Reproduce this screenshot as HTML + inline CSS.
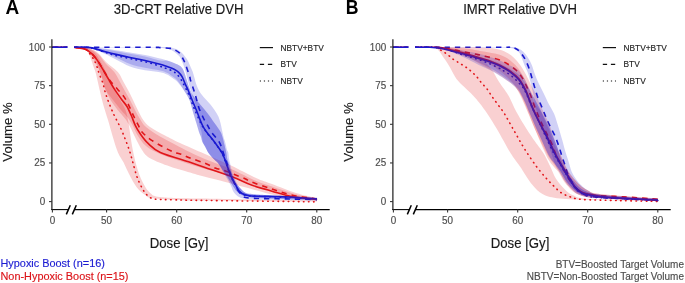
<!DOCTYPE html>
<html><head><meta charset="utf-8">
<style>
html,body{margin:0;padding:0;background:#fff;}
body{width:685px;height:283px;overflow:hidden;position:relative;}
svg{position:absolute;left:0;top:0;will-change:transform;filter:blur(0.35px);}
text{font-family:"Liberation Sans",sans-serif;}
.tk{font-size:9.9px;fill:#4D4D4D;stroke:#4D4D4D;stroke-width:0.15px;}
.at{font-size:13.2px;fill:#1a1a1a;stroke:#1a1a1a;stroke-width:0.15px;}
.lg{font-size:8.35px;fill:#1a1a1a;stroke:#1a1a1a;stroke-width:0.12px;}
.ti{font-size:13.1px;fill:#1a1a1a;stroke:#1a1a1a;stroke-width:0.15px;}
.pl{font-size:19px;font-weight:bold;fill:#000;}
.bt{font-size:10.9px;stroke-width:0.15px;}
.fn{font-size:10.0px;fill:#4D4D4D;stroke:#4D4D4D;stroke-width:0.15px;}
</style></head><body>
<svg width="685" height="283" viewBox="0 0 685 283">
<rect width="685" height="283" fill="#fff"/>
<text transform="translate(5.60,14.25) scale(1,1.070)" class="pl">A</text>
<text transform="translate(178.50,14.40) scale(1,1.050)" class="ti" text-anchor="middle">3D-CRT Relative DVH</text>
<text transform="translate(345.8,14.25) scale(0.93,1.07)" class="pl">B</text>
<text transform="translate(520.00,14.40) scale(1,1.050)" class="ti" text-anchor="middle">IMRT Relative DVH</text>
<path d="M52.00,47.20 L67.70,47.20 L74.10,47.20 C75.08,47.30 78.02,47.42 80.00,47.80 C81.98,48.18 84.12,48.17 86.00,49.50 C87.88,50.83 89.92,53.98 91.30,55.80 C92.68,57.62 93.45,58.87 94.30,60.40 C95.15,61.93 95.80,63.47 96.40,65.00 C97.00,66.53 97.42,68.10 97.90,69.60 C98.38,71.10 98.65,72.23 99.30,74.00 C99.95,75.77 101.12,78.40 101.80,80.20 C102.48,82.00 102.97,83.27 103.40,84.80 C103.83,86.33 103.98,87.87 104.40,89.40 C104.82,90.93 105.38,92.37 105.90,94.00 C106.42,95.63 106.27,95.97 107.50,99.20 C108.73,102.43 111.13,108.63 113.30,113.40 C115.47,118.17 118.45,123.35 120.50,127.80 C122.55,132.25 124.07,136.17 125.60,140.10 C127.13,144.03 128.50,147.70 129.70,151.40 C130.90,155.10 131.60,158.10 132.80,162.30 C134.00,166.50 135.37,172.33 136.90,176.60 C138.43,180.87 140.30,184.82 142.00,187.90 C143.70,190.98 145.05,193.25 147.10,195.10 C149.15,196.95 150.03,198.22 154.30,199.00 C158.57,199.78 165.08,199.57 172.70,199.80 C180.32,200.03 180.45,200.12 200.00,200.40 C219.55,200.68 270.50,201.25 290.00,201.50 C309.50,201.75 312.50,201.83 317.00,201.90" fill="none" stroke="#E3161B" stroke-width="1.60" stroke-dasharray="0.5,4.6" stroke-dashoffset="1.10" stroke-linecap="round"/>
<path d="M52.00,47.20 L67.70,47.20 L74.10,47.20 C75.08,47.35 78.00,47.70 80.00,48.10 C82.00,48.50 84.05,48.58 86.10,49.60 C88.15,50.62 90.42,52.40 92.30,54.20 C94.18,56.00 95.95,58.43 97.40,60.40 C98.85,62.37 99.73,63.90 101.00,66.00 C102.27,68.10 103.42,70.47 105.00,73.00 C106.58,75.53 108.38,78.47 110.50,81.20 C112.62,83.93 115.47,86.83 117.70,89.40 C119.93,91.97 122.15,94.15 123.90,96.60 C125.65,99.05 126.63,100.97 128.20,104.10 C129.77,107.23 131.60,111.85 133.30,115.40 C135.00,118.95 136.95,122.63 138.40,125.40 C139.85,128.17 139.70,129.47 142.00,132.00 C144.30,134.53 147.42,137.47 152.20,140.60 C156.98,143.73 165.90,148.53 170.70,150.80 C175.50,153.07 177.78,153.00 181.00,154.20 C184.22,155.40 186.00,156.48 190.00,158.00 C194.00,159.52 200.80,161.63 205.00,163.30 C209.20,164.97 211.78,166.72 215.20,168.00 C218.62,169.28 222.08,169.83 225.50,171.00 C228.92,172.17 232.35,173.67 235.70,175.00 C239.05,176.33 242.97,177.83 245.60,179.00 C248.23,180.17 247.10,180.32 251.50,182.00 C255.90,183.68 265.17,186.90 272.00,189.10 C278.83,191.30 285.00,193.55 292.50,195.20 C300.00,196.85 312.92,198.37 317.00,199.00" fill="none" stroke="#E3161B" stroke-width="1.60" stroke-dasharray="5.3,4.95" stroke-dashoffset="-1.10"/>
<path d="M52.00,47.20 L67.70,47.20 L74.10,47.20 C75.08,47.35 78.00,47.70 80.00,48.10 C82.00,48.50 84.05,48.58 86.10,49.60 C88.15,50.62 90.42,52.40 92.30,54.20 C94.18,56.00 96.03,58.52 97.40,60.40 C98.77,62.28 99.33,63.57 100.50,65.50 C101.67,67.43 103.07,69.72 104.40,72.00 C105.73,74.28 106.80,76.30 108.50,79.20 C110.20,82.10 112.38,85.98 114.60,89.40 C116.82,92.82 119.73,96.85 121.80,99.70 C123.87,102.55 125.38,103.78 127.00,106.50 C128.62,109.22 130.10,112.80 131.50,116.00 C132.90,119.20 134.00,122.82 135.40,125.70 C136.80,128.58 137.78,130.35 139.90,133.30 C142.02,136.25 144.68,140.22 148.10,143.40 C151.52,146.58 153.42,149.25 160.40,152.40 C167.38,155.55 182.57,159.80 190.00,162.30 C197.43,164.80 197.88,164.95 205.00,167.40 C212.12,169.85 224.95,174.07 232.70,177.00 C240.45,179.93 244.95,182.63 251.50,185.00 C258.05,187.37 265.17,189.25 272.00,191.20 C278.83,193.15 284.98,195.32 292.50,196.70 C300.02,198.08 313.00,199.03 317.10,199.50" fill="none" stroke="#E3161B" stroke-width="1.60"/>
<path d="M52.00,47.20 L67.70,47.20 L74.10,47.20 C76.78,47.30 84.95,46.92 90.20,47.80 C95.45,48.68 101.30,51.20 105.60,52.50 C109.90,53.80 111.12,54.42 116.00,55.60 C120.88,56.78 129.23,58.37 134.90,59.60 C140.57,60.83 145.23,61.68 150.00,63.00 C154.77,64.32 160.42,66.45 163.50,67.50 C166.58,68.55 166.85,68.65 168.50,69.30 C170.15,69.95 171.93,70.52 173.40,71.40 C174.87,72.28 176.03,73.25 177.30,74.60 C178.57,75.95 179.80,77.60 181.00,79.50 C182.20,81.40 183.17,83.42 184.50,86.00 C185.83,88.58 187.42,91.33 189.00,95.00 C190.58,98.67 191.92,103.08 194.00,108.00 C196.08,112.92 199.50,120.58 201.50,124.50 C203.50,128.42 203.92,128.62 206.00,131.50 C208.08,134.38 211.33,138.18 214.00,141.80 C216.67,145.42 219.95,149.52 222.00,153.20 C224.05,156.88 225.00,160.43 226.30,163.90 C227.60,167.37 228.27,170.45 229.80,174.00 C231.33,177.55 233.47,181.90 235.50,185.20 C237.53,188.50 239.65,192.00 242.00,193.80 C244.35,195.60 246.80,195.57 249.60,196.00 C252.40,196.43 252.07,196.15 258.80,196.40 C265.53,196.65 280.30,197.03 290.00,197.50 C299.70,197.97 312.50,198.92 317.00,199.20" fill="none" stroke="#1A1AD0" stroke-width="1.60" stroke-dasharray="0.5,4.6" stroke-dashoffset="1.10" stroke-linecap="round"/>
<path d="M52.00,47.20 L67.70,47.20 L74.10,47.20 C86.75,47.22 135.68,47.23 150.00,47.30 C164.32,47.37 156.57,47.42 160.00,47.60 C163.43,47.78 168.18,48.07 170.60,48.40 C173.02,48.73 172.97,48.78 174.50,49.60 C176.03,50.42 178.45,51.90 179.80,53.30 C181.15,54.70 181.78,56.52 182.60,58.00 C183.42,59.48 183.93,60.32 184.70,62.20 C185.47,64.08 186.37,66.93 187.20,69.30 C188.03,71.67 189.15,74.58 189.70,76.40 C190.25,78.22 189.85,78.02 190.50,80.20 C191.15,82.38 192.67,86.58 193.60,89.50 C194.53,92.42 195.20,94.58 196.10,97.70 C197.00,100.82 197.75,104.73 199.00,108.20 C200.25,111.67 202.15,115.58 203.60,118.50 C205.05,121.42 206.42,123.45 207.70,125.70 C208.98,127.95 209.35,129.23 211.30,132.00 C213.25,134.77 217.37,138.73 219.40,142.30 C221.43,145.87 222.20,149.80 223.50,153.40 C224.80,157.00 226.03,160.47 227.20,163.90 C228.37,167.33 229.40,170.98 230.50,174.00 C231.60,177.02 232.72,179.50 233.80,182.00 C234.88,184.50 235.80,186.97 237.00,189.00 C238.20,191.03 239.57,192.78 241.00,194.20 C242.43,195.62 242.63,196.78 245.60,197.50 C248.57,198.22 251.40,198.25 258.80,198.50 C266.20,198.75 280.30,198.82 290.00,199.00 C299.70,199.18 312.50,199.50 317.00,199.60" fill="none" stroke="#1A1AD0" stroke-width="1.60" stroke-dasharray="5.3,4.95" stroke-dashoffset="-1.10"/>
<path d="M52.00,47.20 L67.70,47.20 L74.10,47.20 C76.78,47.27 84.95,46.83 90.20,47.60 C95.45,48.37 101.30,50.67 105.60,51.80 C109.90,52.93 111.93,53.45 116.00,54.40 C120.07,55.35 125.17,56.48 130.00,57.50 C134.83,58.52 140.00,59.38 145.00,60.50 C150.00,61.62 156.32,63.18 160.00,64.20 C163.68,65.22 164.75,65.75 167.10,66.60 C169.45,67.45 172.22,68.38 174.10,69.30 C175.98,70.22 177.10,70.92 178.40,72.10 C179.70,73.28 180.73,74.37 181.90,76.40 C183.07,78.43 184.30,81.87 185.40,84.30 C186.50,86.73 187.52,88.72 188.50,91.00 C189.48,93.28 189.98,94.78 191.30,98.00 C192.62,101.22 194.57,105.80 196.40,110.30 C198.23,114.80 200.60,121.38 202.30,125.00 C204.00,128.62 204.53,129.12 206.60,132.00 C208.67,134.88 212.08,138.73 214.70,142.30 C217.32,145.87 220.33,149.80 222.30,153.40 C224.27,157.00 225.22,160.47 226.50,163.90 C227.78,167.33 228.92,171.32 230.00,174.00 C231.08,176.68 232.03,178.13 233.00,180.00 C233.97,181.87 234.88,183.53 235.80,185.20 C236.72,186.87 237.47,188.62 238.50,190.00 C239.53,191.38 240.15,192.53 242.00,193.50 C243.85,194.47 246.80,195.35 249.60,195.80 C252.40,196.25 252.07,196.00 258.80,196.20 C265.53,196.40 280.30,196.57 290.00,197.00 C299.70,197.43 312.50,198.50 317.00,198.80" fill="none" stroke="#1A1AD0" stroke-width="1.60"/>
<path d="M74.10,47.20 C75.75,47.37 80.68,47.40 84.00,48.20 C87.32,49.00 91.00,49.37 94.00,52.00 C97.00,54.63 100.00,60.67 102.00,64.00 C104.00,67.33 104.58,69.17 106.00,72.00 C107.42,74.83 109.08,78.00 110.50,81.00 C111.92,84.00 112.92,86.83 114.50,90.00 C116.08,93.17 118.17,96.67 120.00,100.00 C121.83,103.33 124.08,106.17 125.50,110.00 C126.92,113.83 127.28,116.33 128.50,123.00 C129.72,129.67 131.23,142.08 132.80,150.00 C134.37,157.92 136.03,164.70 137.90,170.50 C139.77,176.30 141.95,181.05 144.00,184.80 C146.05,188.55 147.53,190.97 150.20,193.00 C152.87,195.03 151.70,196.07 160.00,197.00 C168.30,197.93 173.83,198.03 200.00,198.60 C226.17,199.17 297.50,200.10 317.00,200.40 L317.00,201.60 C297.50,201.43 227.12,201.13 200.00,200.60 C172.88,200.07 163.42,199.32 154.30,198.40 C145.18,197.48 148.27,197.02 145.30,195.10 C142.33,193.18 139.17,190.32 136.50,186.90 C133.83,183.48 131.47,178.70 129.30,174.60 C127.13,170.50 125.55,166.40 123.50,162.30 C121.45,158.20 119.58,157.05 117.00,150.00 C114.42,142.95 110.45,128.17 108.00,120.00 C105.55,111.83 104.30,108.67 102.30,101.00 C100.30,93.33 97.38,79.50 96.00,74.00 C94.62,68.50 95.00,70.92 94.00,68.00 C93.00,65.08 91.25,59.45 90.00,56.50 C88.75,53.55 88.17,51.72 86.50,50.30 C84.83,48.88 82.07,48.52 80.00,48.00 C77.93,47.48 75.08,47.33 74.10,47.20 Z" fill="#E3161B" fill-opacity="0.20"/>
<path d="M74.10,47.20 C76.42,47.37 84.02,47.07 88.00,48.20 C91.98,49.33 95.07,51.47 98.00,54.00 C100.93,56.53 102.88,60.40 105.60,63.40 C108.32,66.40 111.98,69.07 114.30,72.00 C116.62,74.93 117.82,78.00 119.50,81.00 C121.18,84.00 122.65,86.83 124.40,90.00 C126.15,93.17 128.23,96.67 130.00,100.00 C131.77,103.33 133.33,106.83 135.00,110.00 C136.67,113.17 138.17,116.17 140.00,119.00 C141.83,121.83 142.67,124.08 146.00,127.00 C149.33,129.92 155.17,133.58 160.00,136.50 C164.83,139.42 170.00,141.88 175.00,144.50 C180.00,147.12 184.17,149.45 190.00,152.20 C195.83,154.95 203.17,158.20 210.00,161.00 C216.83,163.80 223.30,165.67 231.00,169.00 C238.70,172.33 249.37,178.08 256.20,181.00 C263.03,183.92 265.27,184.25 272.00,186.50 C278.73,188.75 289.10,192.50 296.60,194.50 C304.10,196.50 313.60,197.83 317.00,198.50 L317.00,200.50 C313.50,200.25 303.50,200.00 296.00,199.00 C288.50,198.00 279.42,196.17 272.00,194.50 C264.58,192.83 260.17,191.33 251.50,189.00 C242.83,186.67 228.58,182.75 220.00,180.50 C211.42,178.25 205.00,176.83 200.00,175.50 C195.00,174.17 195.00,174.00 190.00,172.50 C185.00,171.00 176.67,168.88 170.00,166.50 C163.33,164.12 154.67,160.95 150.00,158.20 C145.33,155.45 144.50,153.53 142.00,150.00 C139.50,146.47 136.97,140.83 135.00,137.00 C133.03,133.17 131.87,130.08 130.20,127.00 C128.53,123.92 127.08,121.33 125.00,118.50 C122.92,115.67 120.12,113.08 117.70,110.00 C115.28,106.92 112.50,103.33 110.50,100.00 C108.50,96.67 106.95,93.17 105.70,90.00 C104.45,86.83 103.95,84.00 103.00,81.00 C102.05,78.00 101.50,75.50 100.00,72.00 C98.50,68.50 96.00,63.33 94.00,60.00 C92.00,56.67 90.00,53.92 88.00,52.00 C86.00,50.08 84.32,49.30 82.00,48.50 C79.68,47.70 75.42,47.42 74.10,47.20 Z" fill="#E3161B" fill-opacity="0.20"/>
<path d="M74.10,47.20 C76.42,47.33 84.02,47.03 88.00,48.00 C91.98,48.97 95.00,50.67 98.00,53.00 C101.00,55.33 102.70,58.83 106.00,62.00 C109.30,65.17 114.97,68.83 117.80,72.00 C120.63,75.17 121.30,78.00 123.00,81.00 C124.70,84.00 126.33,86.83 128.00,90.00 C129.67,93.17 131.27,96.45 133.00,100.00 C134.73,103.55 136.63,107.88 138.40,111.30 C140.17,114.72 141.67,117.88 143.60,120.50 C145.53,123.12 146.43,124.50 150.00,127.00 C153.57,129.50 160.00,132.83 165.00,135.50 C170.00,138.17 173.33,139.92 180.00,143.00 C186.67,146.08 196.50,150.25 205.00,154.00 C213.50,157.75 222.50,161.50 231.00,165.50 C239.50,169.50 249.17,174.92 256.00,178.00 C262.83,181.08 265.33,181.50 272.00,184.00 C278.67,186.50 288.50,190.67 296.00,193.00 C303.50,195.33 313.50,197.17 317.00,198.00 L317.00,200.00 C313.50,199.50 303.50,198.50 296.00,197.00 C288.50,195.50 279.42,193.17 272.00,191.00 C264.58,188.83 258.33,186.50 251.50,184.00 C244.67,181.50 238.75,178.50 231.00,176.00 C223.25,173.50 213.50,171.50 205.00,169.00 C196.50,166.50 187.50,163.50 180.00,161.00 C172.50,158.50 165.67,156.50 160.00,154.00 C154.33,151.50 149.67,149.00 146.00,146.00 C142.33,143.00 140.17,139.33 138.00,136.00 C135.83,132.67 134.67,129.00 133.00,126.00 C131.33,123.00 130.00,120.67 128.00,118.00 C126.00,115.33 123.50,113.00 121.00,110.00 C118.50,107.00 115.55,103.33 113.00,100.00 C110.45,96.67 107.37,93.17 105.70,90.00 C104.03,86.83 103.95,84.00 103.00,81.00 C102.05,78.00 101.17,75.33 100.00,72.00 C98.83,68.67 97.67,64.25 96.00,61.00 C94.33,57.75 92.00,54.58 90.00,52.50 C88.00,50.42 86.65,49.38 84.00,48.50 C81.35,47.62 75.75,47.42 74.10,47.20 Z" fill="#E3161B" fill-opacity="0.20"/>
<path d="M74.10,47.20 C76.75,47.22 84.85,47.07 90.00,47.30 C95.15,47.53 100.67,48.10 105.00,48.60 C109.33,49.10 111.83,49.63 116.00,50.30 C120.17,50.97 125.17,51.82 130.00,52.60 C134.83,53.38 140.00,54.02 145.00,55.00 C150.00,55.98 156.33,57.57 160.00,58.50 C163.67,59.43 164.67,59.85 167.00,60.60 C169.33,61.35 171.87,62.13 174.00,63.00 C176.13,63.87 178.25,64.63 179.80,65.80 C181.35,66.97 182.25,67.97 183.30,70.00 C184.35,72.03 185.15,75.17 186.10,78.00 C187.05,80.83 188.02,84.33 189.00,87.00 C189.98,89.67 190.75,91.83 192.00,94.00 C193.25,96.17 194.92,98.00 196.50,100.00 C198.08,102.00 199.83,104.00 201.50,106.00 C203.17,108.00 204.92,110.00 206.50,112.00 C208.08,114.00 209.62,116.07 211.00,118.00 C212.38,119.93 213.63,121.93 214.80,123.60 C215.97,125.27 217.03,126.60 218.00,128.00 C218.97,129.40 219.85,130.50 220.60,132.00 C221.35,133.50 221.85,134.83 222.50,137.00 C223.15,139.17 223.88,142.43 224.50,145.00 C225.12,147.57 225.73,150.02 226.20,152.40 C226.67,154.78 226.83,157.37 227.30,159.30 C227.77,161.23 228.47,162.22 229.00,164.00 C229.53,165.78 229.98,168.33 230.50,170.00 C231.02,171.67 231.60,172.67 232.10,174.00 C232.60,175.33 232.58,176.13 233.50,178.00 C234.42,179.87 235.68,182.77 237.60,185.20 C239.52,187.63 242.60,191.13 245.00,192.60 C247.40,194.07 247.83,193.57 252.00,194.00 C256.17,194.43 259.17,194.57 270.00,195.20 C280.83,195.83 309.17,197.37 317.00,197.80 L317.00,200.20 C309.17,199.93 280.83,199.07 270.00,198.60 C259.17,198.13 256.50,197.90 252.00,197.40 C247.50,196.90 245.50,196.58 243.00,195.60 C240.50,194.62 238.75,193.23 237.00,191.50 C235.25,189.77 234.00,187.45 232.50,185.20 C231.00,182.95 229.42,180.20 228.00,178.00 C226.58,175.80 225.55,174.35 224.00,172.00 C222.45,169.65 220.37,166.02 218.70,163.90 C217.03,161.78 215.75,161.22 214.00,159.30 C212.25,157.38 209.62,154.45 208.20,152.40 C206.78,150.35 206.45,148.68 205.50,147.00 C204.55,145.32 203.25,143.97 202.50,142.30 C201.75,140.63 201.58,138.72 201.00,137.00 C200.42,135.28 199.75,134.23 199.00,132.00 C198.25,129.77 197.50,126.93 196.50,123.60 C195.50,120.27 194.17,115.93 193.00,112.00 C191.83,108.07 190.83,103.33 189.50,100.00 C188.17,96.67 186.58,94.67 185.00,92.00 C183.42,89.33 181.50,86.17 180.00,84.00 C178.50,81.83 177.33,80.33 176.00,79.00 C174.67,77.67 173.50,77.03 172.00,76.00 C170.50,74.97 169.00,73.72 167.00,72.80 C165.00,71.88 163.67,71.33 160.00,70.50 C156.33,69.67 150.00,68.88 145.00,67.80 C140.00,66.72 134.83,65.72 130.00,64.00 C125.17,62.28 120.17,59.37 116.00,57.50 C111.83,55.63 109.33,54.42 105.00,52.80 C100.67,51.18 95.15,48.73 90.00,47.80 C84.85,46.87 76.75,47.30 74.10,47.20 Z" fill="#1A1AD0" fill-opacity="0.20"/>
<path d="M74.10,47.20 C76.75,47.23 84.85,47.07 90.00,47.40 C95.15,47.73 100.67,48.57 105.00,49.20 C109.33,49.83 111.83,50.43 116.00,51.20 C120.17,51.97 125.17,52.92 130.00,53.80 C134.83,54.68 140.00,55.38 145.00,56.50 C150.00,57.62 156.33,59.82 160.00,60.50 C163.67,61.18 164.67,60.18 167.00,60.60 C169.33,61.02 171.87,62.13 174.00,63.00 C176.13,63.87 178.25,64.63 179.80,65.80 C181.35,66.97 182.25,67.97 183.30,70.00 C184.35,72.03 185.15,75.17 186.10,78.00 C187.05,80.83 188.02,84.33 189.00,87.00 C189.98,89.67 190.75,91.83 192.00,94.00 C193.25,96.17 194.92,98.00 196.50,100.00 C198.08,102.00 199.83,104.00 201.50,106.00 C203.17,108.00 204.92,110.00 206.50,112.00 C208.08,114.00 209.62,116.07 211.00,118.00 C212.38,119.93 213.63,121.93 214.80,123.60 C215.97,125.27 217.03,126.60 218.00,128.00 C218.97,129.40 219.85,130.50 220.60,132.00 C221.35,133.50 221.85,134.83 222.50,137.00 C223.15,139.17 223.88,142.43 224.50,145.00 C225.12,147.57 225.73,150.02 226.20,152.40 C226.67,154.78 226.83,157.37 227.30,159.30 C227.77,161.23 228.47,162.22 229.00,164.00 C229.53,165.78 229.98,168.33 230.50,170.00 C231.02,171.67 231.60,172.67 232.10,174.00 C232.60,175.33 232.58,176.13 233.50,178.00 C234.42,179.87 235.68,182.77 237.60,185.20 C239.52,187.63 242.60,191.13 245.00,192.60 C247.40,194.07 247.83,193.57 252.00,194.00 C256.17,194.43 259.17,194.57 270.00,195.20 C280.83,195.83 309.17,197.37 317.00,197.80 L317.00,200.20 C309.17,199.93 280.83,199.07 270.00,198.60 C259.17,198.13 256.50,197.90 252.00,197.40 C247.50,196.90 245.50,196.58 243.00,195.60 C240.50,194.62 238.75,193.23 237.00,191.50 C235.25,189.77 234.00,187.45 232.50,185.20 C231.00,182.95 229.42,180.20 228.00,178.00 C226.58,175.80 225.55,174.35 224.00,172.00 C222.45,169.65 220.37,166.02 218.70,163.90 C217.03,161.78 215.75,161.22 214.00,159.30 C212.25,157.38 209.62,154.45 208.20,152.40 C206.78,150.35 206.45,148.68 205.50,147.00 C204.55,145.32 203.25,143.97 202.50,142.30 C201.75,140.63 201.58,138.72 201.00,137.00 C200.42,135.28 199.75,134.23 199.00,132.00 C198.25,129.77 197.50,126.93 196.50,123.60 C195.50,120.27 194.17,115.93 193.00,112.00 C191.83,108.07 190.83,103.33 189.50,100.00 C188.17,96.67 186.58,94.50 185.00,92.00 C183.42,89.50 181.50,86.92 180.00,85.00 C178.50,83.08 177.50,81.83 176.00,80.50 C174.50,79.17 172.50,78.00 171.00,77.00 C169.50,76.00 168.83,75.28 167.00,74.50 C165.17,73.72 163.67,73.00 160.00,72.30 C156.33,71.60 150.00,71.27 145.00,70.30 C140.00,69.33 134.83,68.30 130.00,66.50 C125.17,64.70 120.17,61.58 116.00,59.50 C111.83,57.42 109.33,55.90 105.00,54.00 C100.67,52.10 95.15,49.23 90.00,48.10 C84.85,46.97 76.75,47.35 74.10,47.20 Z" fill="#1A1AD0" fill-opacity="0.20"/>
<path d="M74.10,47.00 C86.75,47.00 134.85,46.98 150.00,47.00 C165.15,47.02 161.33,46.97 165.00,47.10 C168.67,47.23 169.83,47.32 172.00,47.80 C174.17,48.28 176.33,49.13 178.00,50.00 C179.67,50.87 180.92,52.00 182.00,53.00 C183.08,54.00 183.82,55.17 184.50,56.00 C185.18,56.83 185.43,57.00 186.10,58.00 C186.77,59.00 187.78,60.58 188.50,62.00 C189.22,63.42 189.68,64.83 190.40,66.50 C191.12,68.17 192.12,70.08 192.80,72.00 C193.48,73.92 193.88,75.83 194.50,78.00 C195.12,80.17 195.67,82.75 196.50,85.00 C197.33,87.25 198.17,89.33 199.50,91.50 C200.83,93.67 202.75,95.92 204.50,98.00 C206.25,100.08 208.33,102.00 210.00,104.00 C211.67,106.00 213.10,107.90 214.50,110.00 C215.90,112.10 217.40,114.43 218.40,116.60 C219.40,118.77 219.90,120.77 220.50,123.00 C221.10,125.23 221.50,127.67 222.00,130.00 C222.50,132.33 222.97,134.95 223.50,137.00 C224.03,139.05 224.62,140.13 225.20,142.30 C225.78,144.47 226.48,148.32 227.00,150.00 C227.52,151.68 227.95,150.85 228.30,152.40 C228.65,153.95 228.73,157.20 229.10,159.30 C229.47,161.40 229.93,162.55 230.50,165.00 C231.07,167.45 231.83,171.83 232.50,174.00 C233.17,176.17 233.58,176.13 234.50,178.00 C235.42,179.87 236.25,182.77 238.00,185.20 C239.75,187.63 242.67,191.05 245.00,192.60 C247.33,194.15 247.83,193.93 252.00,194.50 C256.17,195.07 259.17,195.33 270.00,196.00 C280.83,196.67 309.17,198.08 317.00,198.50 L317.00,200.80 C309.17,200.60 281.17,199.90 270.00,199.60 C258.83,199.30 255.00,199.35 250.00,199.00 C245.00,198.65 242.67,198.57 240.00,197.50 C237.33,196.43 235.55,194.65 234.00,192.60 C232.45,190.55 232.20,188.13 230.70,185.20 C229.20,182.27 227.00,178.55 225.00,175.00 C223.00,171.45 220.53,166.52 218.70,163.90 C216.87,161.28 215.75,161.22 214.00,159.30 C212.25,157.38 210.03,155.23 208.20,152.40 C206.37,149.57 204.12,145.70 203.00,142.30 C201.88,138.90 202.08,134.85 201.50,132.00 C200.92,129.15 200.17,128.53 199.50,125.20 C198.83,121.87 198.42,116.20 197.50,112.00 C196.58,107.80 195.25,104.00 194.00,100.00 C192.75,96.00 191.25,92.17 190.00,88.00 C188.75,83.83 187.50,78.58 186.50,75.00 C185.50,71.42 185.00,69.33 184.00,66.50 C183.00,63.67 181.50,59.92 180.50,58.00 C179.50,56.08 179.00,56.00 178.00,55.00 C177.00,54.00 175.83,52.92 174.50,52.00 C173.17,51.08 172.08,50.17 170.00,49.50 C167.92,48.83 165.33,48.33 162.00,48.00 C158.67,47.67 164.65,47.60 150.00,47.50 C135.35,47.40 86.75,47.42 74.10,47.40 Z" fill="#1A1AD0" fill-opacity="0.20"/>
<rect x="67.6" y="38" width="6.4" height="172" fill="#fff"/>
<line x1="51.90" y1="39.2" x2="51.90" y2="210.1" stroke="#000" stroke-width="1.07"/>
<line x1="49.00" y1="47.00" x2="51.90" y2="47.00" stroke="#333" stroke-width="1.07"/>
<text transform="translate(45.30,50.50) scale(1,1.030)" class="tk" text-anchor="end">100</text>
<line x1="49.00" y1="85.65" x2="51.90" y2="85.65" stroke="#333" stroke-width="1.07"/>
<text transform="translate(45.30,89.15) scale(1,1.030)" class="tk" text-anchor="end">75</text>
<line x1="49.00" y1="124.30" x2="51.90" y2="124.30" stroke="#333" stroke-width="1.07"/>
<text transform="translate(45.30,127.80) scale(1,1.030)" class="tk" text-anchor="end">50</text>
<line x1="49.00" y1="162.95" x2="51.90" y2="162.95" stroke="#333" stroke-width="1.07"/>
<text transform="translate(45.30,166.45) scale(1,1.030)" class="tk" text-anchor="end">25</text>
<line x1="49.00" y1="201.60" x2="51.90" y2="201.60" stroke="#333" stroke-width="1.07"/>
<text transform="translate(45.30,205.10) scale(1,1.030)" class="tk" text-anchor="end">0</text>
<line x1="51.40" y1="209.60" x2="68.20" y2="209.60" stroke="#000" stroke-width="1.07"/>
<line x1="74.10" y1="209.60" x2="329.70" y2="209.60" stroke="#000" stroke-width="1.07"/>
<line x1="66.30" y1="214.4" x2="70.30" y2="205.3" stroke="#000" stroke-width="1.5"/>
<line x1="72.30" y1="214.4" x2="76.30" y2="205.3" stroke="#000" stroke-width="1.5"/>
<line x1="52.40" y1="209.60" x2="52.40" y2="212.6" stroke="#333" stroke-width="1.07"/>
<text transform="translate(52.40,223.50) scale(1,1.030)" class="tk" text-anchor="middle">0</text>
<line x1="106.60" y1="209.60" x2="106.60" y2="212.6" stroke="#333" stroke-width="1.07"/>
<text transform="translate(106.60,223.50) scale(1,1.030)" class="tk" text-anchor="middle">50</text>
<line x1="176.70" y1="209.60" x2="176.70" y2="212.6" stroke="#333" stroke-width="1.07"/>
<text transform="translate(176.70,223.50) scale(1,1.030)" class="tk" text-anchor="middle">60</text>
<line x1="246.70" y1="209.60" x2="246.70" y2="212.6" stroke="#333" stroke-width="1.07"/>
<text transform="translate(246.70,223.50) scale(1,1.030)" class="tk" text-anchor="middle">70</text>
<line x1="316.80" y1="209.60" x2="316.80" y2="212.6" stroke="#333" stroke-width="1.07"/>
<text transform="translate(316.80,223.50) scale(1,1.030)" class="tk" text-anchor="middle">80</text>
<text transform="translate(179.00,247.70) scale(1,1.100)" class="at" text-anchor="middle">Dose [Gy]</text>
<text transform="translate(12.30,132) rotate(-90)" class="at" text-anchor="middle">Volume %</text>
<line x1="259.80" y1="47.60" x2="273.00" y2="47.60" stroke="#111" stroke-width="1.2"/>
<text transform="translate(280.50,50.60) scale(1,1.040)" class="lg">NBTV+BTV</text>
<line x1="259.80" y1="64.30" x2="272.30" y2="64.30" stroke="#111" stroke-width="1.2" stroke-dasharray="4.3,3.8"/>
<text transform="translate(280.50,67.30) scale(1,1.040)" class="lg">BTV</text>
<line x1="259.80" y1="81.00" x2="273.00" y2="81.00" stroke="#111" stroke-width="1.2" stroke-dasharray="1.2,2.85"/>
<text transform="translate(280.50,84.00) scale(1,1.040)" class="lg">NBTV</text>
<path d="M393.00,47.20 L408.60,47.20 L415.00,47.20 C417.83,47.20 428.43,47.17 432.00,47.20 C435.57,47.23 434.97,46.93 436.40,47.40 C437.83,47.87 439.20,49.13 440.60,50.00 C442.00,50.87 443.38,51.63 444.80,52.60 C446.22,53.57 447.77,54.73 449.10,55.80 C450.43,56.87 451.48,58.03 452.80,59.00 C454.12,59.97 455.58,60.72 457.00,61.60 C458.42,62.48 459.88,63.42 461.30,64.30 C462.72,65.18 464.10,65.93 465.50,66.90 C466.90,67.87 468.40,69.03 469.70,70.10 C471.00,71.17 472.08,72.15 473.30,73.30 C474.52,74.45 475.85,75.68 477.00,77.00 C478.15,78.32 479.13,79.88 480.20,81.20 C481.27,82.52 482.23,83.57 483.40,84.90 C484.57,86.23 485.72,87.18 487.20,89.20 C488.68,91.22 490.47,94.37 492.30,97.00 C494.13,99.63 496.15,102.17 498.20,105.00 C500.25,107.83 501.83,109.50 504.60,114.00 C507.37,118.50 511.43,126.12 514.80,132.00 C518.17,137.88 521.20,143.57 524.80,149.30 C528.40,155.03 532.77,161.50 536.40,166.40 C540.03,171.30 543.80,175.52 546.60,178.70 C549.40,181.88 551.48,183.75 553.20,185.50 C554.92,187.25 555.67,188.05 556.90,189.20 C558.13,190.35 559.18,191.43 560.60,192.40 C562.02,193.37 563.82,194.27 565.40,195.00 C566.98,195.73 567.42,196.07 570.10,196.80 C572.78,197.53 573.18,198.77 581.50,199.40 C589.82,200.03 607.25,200.27 620.00,200.60 C632.75,200.93 651.67,201.27 658.00,201.40" fill="none" stroke="#E3161B" stroke-width="1.60" stroke-dasharray="0.5,4.6" stroke-dashoffset="2.50" stroke-linecap="round"/>
<path d="M393.00,47.20 L408.60,47.20 L415.00,47.20 C418.50,47.22 430.85,47.10 436.00,47.30 C441.15,47.50 442.48,47.88 445.90,48.40 C449.32,48.92 452.97,49.70 456.50,50.40 C460.03,51.10 463.57,51.90 467.10,52.60 C470.63,53.30 474.33,53.90 477.70,54.60 C481.07,55.30 483.73,55.93 487.30,56.80 C490.87,57.67 495.72,58.60 499.10,59.80 C502.48,61.00 504.80,62.30 507.60,64.00 C510.40,65.70 513.45,67.68 515.90,70.00 C518.35,72.32 520.35,74.82 522.30,77.90 C524.25,80.98 526.23,85.65 527.60,88.50 C528.97,91.35 529.53,92.57 530.50,95.00 C531.47,97.43 532.05,99.53 533.40,103.10 C534.75,106.67 536.75,112.07 538.60,116.40 C540.45,120.73 542.33,124.60 544.50,129.10 C546.67,133.60 549.60,138.92 551.60,143.40 C553.60,147.88 554.85,152.23 556.50,156.00 C558.15,159.77 559.83,162.83 561.50,166.00 C563.17,169.17 564.75,172.08 566.50,175.00 C568.25,177.92 570.08,181.00 572.00,183.50 C573.92,186.00 575.83,188.28 578.00,190.00 C580.17,191.72 582.60,192.93 585.00,193.80 C587.40,194.67 586.15,194.70 592.40,195.20 C598.65,195.70 611.57,196.13 622.50,196.80 C633.43,197.47 652.08,198.80 658.00,199.20" fill="none" stroke="#E3161B" stroke-width="1.60" stroke-dasharray="5.3,4.95" stroke-dashoffset="-0.40"/>
<path d="M393.00,47.20 L408.60,47.20 L415.00,47.20 C417.50,47.22 425.73,47.25 430.00,47.30 C434.27,47.35 437.07,47.05 440.60,47.50 C444.13,47.95 447.67,49.15 451.20,50.00 C454.73,50.85 458.27,51.67 461.80,52.60 C465.33,53.53 468.87,54.57 472.40,55.60 C475.93,56.63 479.97,57.85 483.00,58.80 C486.03,59.75 487.77,60.25 490.60,61.30 C493.43,62.35 496.67,63.42 500.00,65.10 C503.33,66.78 507.42,69.07 510.60,71.40 C513.78,73.73 516.62,76.05 519.10,79.10 C521.58,82.15 523.93,86.70 525.50,89.70 C527.07,92.70 527.18,93.82 528.50,97.10 C529.82,100.38 531.40,104.90 533.40,109.40 C535.40,113.90 538.15,119.43 540.50,124.10 C542.85,128.77 545.27,132.90 547.50,137.40 C549.73,141.90 551.83,146.98 553.90,151.10 C555.97,155.22 558.00,158.77 559.90,162.10 C561.80,165.43 563.55,168.18 565.30,171.10 C567.05,174.02 568.70,176.92 570.40,179.60 C572.10,182.28 573.65,185.15 575.50,187.20 C577.35,189.25 579.58,190.82 581.50,191.90 C583.42,192.98 585.25,193.25 587.00,193.70 C588.75,194.15 590.22,194.27 592.00,194.60 C593.78,194.93 594.70,195.20 597.70,195.70 C600.70,196.20 605.87,197.15 610.00,197.60 C614.13,198.05 614.50,197.95 622.50,198.40 C630.50,198.85 652.08,199.98 658.00,200.30" fill="none" stroke="#E3161B" stroke-width="1.60"/>
<path d="M393.00,47.20 L408.60,47.20 L415.00,47.20 C418.50,47.23 430.17,46.88 436.00,47.40 C441.83,47.92 446.00,49.20 450.00,50.30 C454.00,51.40 456.62,52.88 460.00,54.00 C463.38,55.12 466.82,55.95 470.30,57.00 C473.78,58.05 477.72,59.20 480.90,60.30 C484.08,61.40 486.42,62.32 489.40,63.60 C492.38,64.88 496.50,66.83 498.80,68.00 C501.10,69.17 501.05,69.27 503.20,70.60 C505.35,71.93 509.05,73.90 511.70,76.00 C514.35,78.10 517.22,81.28 519.10,83.20 C520.98,85.12 521.80,85.77 523.00,87.50 C524.20,89.23 524.88,90.52 526.30,93.60 C527.72,96.68 529.47,101.43 531.50,106.00 C533.53,110.57 536.17,116.00 538.50,121.00 C540.83,126.00 543.08,130.83 545.50,136.00 C547.92,141.17 550.58,147.33 553.00,152.00 C555.42,156.67 557.95,160.50 560.00,164.00 C562.05,167.50 563.47,170.00 565.30,173.00 C567.13,176.00 569.22,179.33 571.00,182.00 C572.78,184.67 574.25,187.08 576.00,189.00 C577.75,190.92 578.83,192.17 581.50,193.50 C584.17,194.83 585.17,196.15 592.00,197.00 C598.83,197.85 611.50,198.02 622.50,198.60 C633.50,199.18 652.08,200.18 658.00,200.50" fill="none" stroke="#1A1AD0" stroke-width="1.60" stroke-dasharray="0.5,4.6" stroke-dashoffset="2.50" stroke-linecap="round"/>
<path d="M393.00,47.20 L408.60,47.20 L415.00,47.20 C429.17,47.20 484.33,47.20 500.00,47.20 C515.67,47.20 506.75,47.13 509.00,47.20 C511.25,47.27 512.08,47.20 513.50,47.60 C514.92,48.00 516.17,48.57 517.50,49.60 C518.83,50.63 520.17,52.07 521.50,53.80 C522.83,55.53 524.20,57.47 525.50,60.00 C526.80,62.53 528.18,65.83 529.30,69.00 C530.42,72.17 531.25,75.75 532.20,79.00 C533.15,82.25 534.05,85.38 535.00,88.50 C535.95,91.62 536.68,94.42 537.90,97.70 C539.12,100.98 541.02,105.08 542.30,108.20 C543.58,111.32 544.35,113.48 545.60,116.40 C546.85,119.32 548.30,122.57 549.80,125.70 C551.30,128.83 553.13,131.90 554.60,135.20 C556.07,138.50 557.42,142.12 558.60,145.50 C559.78,148.88 560.67,152.30 561.70,155.50 C562.73,158.70 563.78,161.67 564.80,164.70 C565.82,167.73 566.60,170.82 567.80,173.70 C569.00,176.58 570.47,179.45 572.00,182.00 C573.53,184.55 575.00,186.92 577.00,189.00 C579.00,191.08 580.55,193.13 584.00,194.50 C587.45,195.87 591.28,196.52 597.70,197.20 C604.12,197.88 612.45,198.07 622.50,198.60 C632.55,199.13 652.08,200.10 658.00,200.40" fill="none" stroke="#1A1AD0" stroke-width="1.60" stroke-dasharray="5.3,4.95" stroke-dashoffset="-0.40"/>
<path d="M393.00,47.20 L408.60,47.20 L415.00,47.20 C417.50,47.22 425.73,47.10 430.00,47.30 C434.27,47.50 437.07,47.80 440.60,48.40 C444.13,49.00 447.67,50.05 451.20,50.90 C454.73,51.75 458.27,52.57 461.80,53.50 C465.33,54.43 468.87,55.47 472.40,56.50 C475.93,57.53 479.97,58.75 483.00,59.70 C486.03,60.65 487.77,61.15 490.60,62.20 C493.43,63.25 496.67,64.32 500.00,66.00 C503.33,67.68 507.42,69.97 510.60,72.30 C513.78,74.63 516.62,76.95 519.10,80.00 C521.58,83.05 523.93,87.60 525.50,90.60 C527.07,93.60 527.18,94.72 528.50,98.00 C529.82,101.28 531.40,105.80 533.40,110.30 C535.40,114.80 538.15,120.33 540.50,125.00 C542.85,129.67 545.27,133.80 547.50,138.30 C549.73,142.80 551.83,147.88 553.90,152.00 C555.97,156.12 558.00,159.67 559.90,163.00 C561.80,166.33 563.55,169.08 565.30,172.00 C567.05,174.92 568.70,177.82 570.40,180.50 C572.10,183.18 573.65,186.05 575.50,188.10 C577.35,190.15 579.58,191.72 581.50,192.80 C583.42,193.88 585.25,194.15 587.00,194.60 C588.75,195.05 590.22,195.17 592.00,195.50 C593.78,195.83 594.70,196.25 597.70,196.60 C600.70,196.95 605.87,197.30 610.00,197.60 C614.13,197.90 614.50,197.95 622.50,198.40 C630.50,198.85 652.08,199.98 658.00,200.30" fill="none" stroke="#1A1AD0" stroke-width="1.60"/>
<path d="M415.00,47.20 C419.17,47.22 433.33,47.00 440.00,47.30 C446.67,47.60 450.33,48.05 455.00,49.00 C459.67,49.95 464.17,51.58 468.00,53.00 C471.83,54.42 475.00,55.83 478.00,57.50 C481.00,59.17 483.60,60.82 486.00,63.00 C488.40,65.18 490.62,68.10 492.40,70.60 C494.18,73.10 495.18,75.52 496.70,78.00 C498.22,80.48 500.15,83.50 501.50,85.50 C502.85,87.50 503.50,88.08 504.80,90.00 C506.10,91.92 507.40,93.43 509.30,97.00 C511.20,100.57 513.00,105.58 516.20,111.40 C519.40,117.22 524.53,125.75 528.50,131.90 C532.47,138.05 537.32,144.45 540.00,148.30 C542.68,152.15 542.85,151.88 544.60,155.00 C546.35,158.12 548.60,163.03 550.50,167.00 C552.40,170.97 553.67,175.13 556.00,178.80 C558.33,182.47 561.67,186.25 564.50,189.00 C567.33,191.75 568.75,193.63 573.00,195.30 C577.25,196.97 575.83,198.18 590.00,199.00 C604.17,199.82 646.67,200.00 658.00,200.20 L658.00,201.20 C646.67,201.00 606.85,200.50 590.00,200.00 C573.15,199.50 564.82,199.18 556.90,198.20 C548.98,197.22 546.60,196.33 542.50,194.10 C538.40,191.87 536.05,189.42 532.30,184.80 C528.55,180.18 523.63,171.70 520.00,166.40 C516.37,161.10 514.25,159.07 510.50,153.00 C506.75,146.93 501.33,136.50 497.50,130.00 C493.67,123.50 490.50,118.50 487.50,114.00 C484.50,109.50 481.83,106.00 479.50,103.00 C477.17,100.00 475.25,97.92 473.50,96.00 C471.75,94.08 470.53,92.98 469.00,91.50 C467.47,90.02 465.72,88.43 464.30,87.10 C462.88,85.77 461.80,84.85 460.50,83.50 C459.20,82.15 457.67,80.58 456.50,79.00 C455.33,77.42 454.53,75.83 453.50,74.00 C452.47,72.17 451.38,69.92 450.30,68.00 C449.22,66.08 448.22,64.37 447.00,62.50 C445.78,60.63 444.25,58.63 443.00,56.80 C441.75,54.97 440.67,52.97 439.50,51.50 C438.33,50.03 437.25,48.70 436.00,48.00 C434.75,47.30 435.50,47.43 432.00,47.30 C428.50,47.17 417.83,47.22 415.00,47.20 Z" fill="#E3161B" fill-opacity="0.20"/>
<path d="M415.00,47.20 C419.17,47.22 431.67,47.08 440.00,47.30 C448.33,47.52 458.33,47.90 465.00,48.50 C471.67,49.10 475.00,50.07 480.00,50.90 C485.00,51.73 490.83,52.48 495.00,53.50 C499.17,54.52 502.17,55.58 505.00,57.00 C507.83,58.42 509.83,60.17 512.00,62.00 C514.17,63.83 516.17,65.67 518.00,68.00 C519.83,70.33 521.33,73.00 523.00,76.00 C524.67,79.00 526.50,82.67 528.00,86.00 C529.50,89.33 530.77,93.00 532.00,96.00 C533.23,99.00 533.90,101.33 535.40,104.00 C536.90,106.67 539.32,109.00 541.00,112.00 C542.68,115.00 544.08,118.83 545.50,122.00 C546.92,125.17 548.25,127.83 549.50,131.00 C550.75,134.17 551.83,138.00 553.00,141.00 C554.17,144.00 555.25,146.67 556.50,149.00 C557.75,151.33 559.08,152.33 560.50,155.00 C561.92,157.67 563.63,162.17 565.00,165.00 C566.37,167.83 566.95,169.42 568.70,172.00 C570.45,174.58 573.37,178.10 575.50,180.50 C577.63,182.90 579.37,184.70 581.50,186.40 C583.63,188.10 585.88,189.52 588.30,190.70 C590.72,191.88 590.38,192.62 596.00,193.50 C601.62,194.38 611.67,195.17 622.00,196.00 C632.33,196.83 652.00,198.08 658.00,198.50 L658.00,200.60 C648.33,200.17 611.33,198.52 600.00,198.00 C588.67,197.48 593.37,197.95 590.00,197.50 C586.63,197.05 582.63,196.30 579.80,195.30 C576.97,194.30 575.55,193.68 573.00,191.50 C570.45,189.32 566.92,185.45 564.50,182.20 C562.08,178.95 560.25,174.53 558.50,172.00 C556.75,169.47 555.42,168.67 554.00,167.00 C552.58,165.33 551.33,164.00 550.00,162.00 C548.67,160.00 547.53,158.17 546.00,155.00 C544.47,151.83 542.58,147.17 540.80,143.00 C539.02,138.83 537.22,134.67 535.30,130.00 C533.38,125.33 530.88,119.00 529.30,115.00 C527.72,111.00 526.97,108.83 525.80,106.00 C524.63,103.17 523.52,100.50 522.30,98.00 C521.08,95.50 520.05,93.17 518.50,91.00 C516.95,88.83 514.92,86.75 513.00,85.00 C511.08,83.25 509.17,82.08 507.00,80.50 C504.83,78.92 502.83,77.33 500.00,75.50 C497.17,73.67 493.33,71.42 490.00,69.50 C486.67,67.58 483.33,65.83 480.00,64.00 C476.67,62.17 475.00,60.75 470.00,58.50 C465.00,56.25 455.67,52.32 450.00,50.50 C444.33,48.68 441.83,48.15 436.00,47.60 C430.17,47.05 418.50,47.27 415.00,47.20 Z" fill="#E3161B" fill-opacity="0.20"/>
<path d="M415.00,47.20 C422.50,47.20 449.17,47.17 460.00,47.20 C470.83,47.23 474.02,47.13 480.00,47.40 C485.98,47.67 491.48,47.95 495.90,48.80 C500.32,49.65 503.50,51.00 506.50,52.50 C509.50,54.00 511.60,55.68 513.90,57.80 C516.20,59.92 518.35,62.50 520.30,65.20 C522.25,67.90 523.68,70.47 525.60,74.00 C527.52,77.53 530.17,83.25 531.80,86.40 C533.43,89.55 534.03,89.90 535.40,92.90 C536.77,95.90 538.40,100.72 540.00,104.40 C541.60,108.08 543.33,111.40 545.00,115.00 C546.67,118.60 548.50,122.17 550.00,126.00 C551.50,129.83 552.75,134.33 554.00,138.00 C555.25,141.67 556.42,145.17 557.50,148.00 C558.58,150.83 559.25,152.17 560.50,155.00 C561.75,157.83 563.63,162.17 565.00,165.00 C566.37,167.83 566.95,169.42 568.70,172.00 C570.45,174.58 573.37,178.10 575.50,180.50 C577.63,182.90 579.37,184.70 581.50,186.40 C583.63,188.10 585.88,189.52 588.30,190.70 C590.72,191.88 590.38,192.62 596.00,193.50 C601.62,194.38 611.67,195.17 622.00,196.00 C632.33,196.83 652.00,198.08 658.00,198.50 L658.00,200.60 C648.33,200.20 611.33,198.72 600.00,198.20 C588.67,197.68 593.33,198.03 590.00,197.50 C586.67,196.97 582.75,196.08 580.00,195.00 C577.25,193.92 575.92,193.17 573.50,191.00 C571.08,188.83 567.83,185.17 565.50,182.00 C563.17,178.83 561.17,174.58 559.50,172.00 C557.83,169.42 556.83,168.33 555.50,166.50 C554.17,164.67 552.92,163.08 551.50,161.00 C550.08,158.92 548.83,157.33 547.00,154.00 C545.17,150.67 542.58,145.33 540.50,141.00 C538.42,136.67 536.42,132.33 534.50,128.00 C532.58,123.67 530.50,118.50 529.00,115.00 C527.50,111.50 526.67,109.67 525.50,107.00 C524.33,104.33 523.25,101.67 522.00,99.00 C520.75,96.33 519.50,93.67 518.00,91.00 C516.50,88.33 514.83,85.33 513.00,83.00 C511.17,80.67 509.17,79.00 507.00,77.00 C504.83,75.00 502.83,73.08 500.00,71.00 C497.17,68.92 493.33,66.42 490.00,64.50 C486.67,62.58 485.00,61.58 480.00,59.50 C475.00,57.42 466.67,53.98 460.00,52.00 C453.33,50.02 447.50,48.40 440.00,47.60 C432.50,46.80 419.17,47.27 415.00,47.20 Z" fill="#E3161B" fill-opacity="0.20"/>
<path d="M415.00,47.20 C419.17,47.23 432.50,46.93 440.00,47.40 C447.50,47.87 453.33,48.90 460.00,50.00 C466.67,51.10 475.00,52.83 480.00,54.00 C485.00,55.17 486.67,55.92 490.00,57.00 C493.33,58.08 496.67,59.08 500.00,60.50 C503.33,61.92 507.00,63.92 510.00,65.50 C513.00,67.08 515.67,67.92 518.00,70.00 C520.33,72.08 522.17,75.00 524.00,78.00 C525.83,81.00 527.33,84.67 529.00,88.00 C530.67,91.33 532.25,94.67 534.00,98.00 C535.75,101.33 537.75,104.67 539.50,108.00 C541.25,111.33 542.83,114.67 544.50,118.00 C546.17,121.33 548.00,124.67 549.50,128.00 C551.00,131.33 552.17,134.67 553.50,138.00 C554.83,141.33 556.50,145.17 557.50,148.00 C558.50,150.83 558.50,152.17 559.50,155.00 C560.50,157.83 562.25,162.17 563.50,165.00 C564.75,167.83 565.33,169.33 567.00,172.00 C568.67,174.67 571.42,178.42 573.50,181.00 C575.58,183.58 577.33,185.75 579.50,187.50 C581.67,189.25 583.75,190.38 586.50,191.50 C589.25,192.62 590.08,193.32 596.00,194.20 C601.92,195.08 611.67,196.00 622.00,196.80 C632.33,197.60 652.00,198.63 658.00,199.00 L658.00,200.30 C648.33,199.88 611.00,198.38 600.00,197.80 C589.00,197.22 595.00,197.33 592.00,196.80 C589.00,196.27 584.83,195.65 582.00,194.60 C579.17,193.55 577.50,192.60 575.00,190.50 C572.50,188.40 569.33,185.08 567.00,182.00 C564.67,178.92 562.67,174.58 561.00,172.00 C559.33,169.42 558.42,168.33 557.00,166.50 C555.58,164.67 553.92,162.92 552.50,161.00 C551.08,159.08 550.17,158.17 548.50,155.00 C546.83,151.83 544.50,146.33 542.50,142.00 C540.50,137.67 538.50,133.50 536.50,129.00 C534.50,124.50 532.25,119.10 530.50,115.00 C528.75,110.90 527.33,107.40 526.00,104.40 C524.67,101.40 523.75,99.57 522.50,97.00 C521.25,94.43 520.58,91.58 518.50,89.00 C516.42,86.42 513.08,84.00 510.00,81.50 C506.92,79.00 503.33,76.25 500.00,74.00 C496.67,71.75 493.33,69.83 490.00,68.00 C486.67,66.17 485.00,65.25 480.00,63.00 C475.00,60.75 466.67,57.02 460.00,54.50 C453.33,51.98 447.50,49.12 440.00,47.90 C432.50,46.68 419.17,47.32 415.00,47.20 Z" fill="#1A1AD0" fill-opacity="0.20"/>
<path d="M415.00,47.20 C419.17,47.27 432.50,46.88 440.00,47.60 C447.50,48.32 453.33,49.93 460.00,51.50 C466.67,53.07 475.00,55.58 480.00,57.00 C485.00,58.42 486.67,58.92 490.00,60.00 C493.33,61.08 496.67,62.00 500.00,63.50 C503.33,65.00 507.00,67.25 510.00,69.00 C513.00,70.75 515.67,72.00 518.00,74.00 C520.33,76.00 522.17,78.50 524.00,81.00 C525.83,83.50 527.33,86.17 529.00,89.00 C530.67,91.83 532.25,94.83 534.00,98.00 C535.75,101.17 537.75,104.67 539.50,108.00 C541.25,111.33 542.83,114.67 544.50,118.00 C546.17,121.33 548.00,124.67 549.50,128.00 C551.00,131.33 552.17,134.67 553.50,138.00 C554.83,141.33 556.50,145.17 557.50,148.00 C558.50,150.83 558.50,152.17 559.50,155.00 C560.50,157.83 562.25,162.17 563.50,165.00 C564.75,167.83 565.33,169.33 567.00,172.00 C568.67,174.67 571.42,178.42 573.50,181.00 C575.58,183.58 577.33,185.75 579.50,187.50 C581.67,189.25 583.75,190.38 586.50,191.50 C589.25,192.62 590.08,193.32 596.00,194.20 C601.92,195.08 611.67,196.00 622.00,196.80 C632.33,197.60 652.00,198.63 658.00,199.00 L658.00,200.30 C648.33,199.88 611.00,198.38 600.00,197.80 C589.00,197.22 595.00,197.33 592.00,196.80 C589.00,196.27 584.83,195.65 582.00,194.60 C579.17,193.55 577.50,192.60 575.00,190.50 C572.50,188.40 569.33,185.08 567.00,182.00 C564.67,178.92 562.67,174.58 561.00,172.00 C559.33,169.42 558.42,168.33 557.00,166.50 C555.58,164.67 553.92,162.92 552.50,161.00 C551.08,159.08 550.17,158.17 548.50,155.00 C546.83,151.83 544.50,146.33 542.50,142.00 C540.50,137.67 538.50,133.50 536.50,129.00 C534.50,124.50 532.25,119.10 530.50,115.00 C528.75,110.90 527.33,107.40 526.00,104.40 C524.67,101.40 523.83,99.40 522.50,97.00 C521.17,94.60 519.98,92.33 518.00,90.00 C516.02,87.67 513.60,85.33 510.60,83.00 C507.60,80.67 503.43,78.17 500.00,76.00 C496.57,73.83 493.33,71.75 490.00,70.00 C486.67,68.25 485.00,67.92 480.00,65.50 C475.00,63.08 466.67,58.38 460.00,55.50 C453.33,52.62 447.50,49.58 440.00,48.20 C432.50,46.82 419.17,47.37 415.00,47.20 Z" fill="#1A1AD0" fill-opacity="0.20"/>
<path d="M415.00,47.00 C429.17,47.00 483.67,46.98 500.00,47.00 C516.33,47.02 509.83,46.80 513.00,47.10 C516.17,47.40 517.33,48.07 519.00,48.80 C520.67,49.53 521.88,50.53 523.00,51.50 C524.12,52.47 524.75,53.35 525.70,54.60 C526.65,55.85 527.67,57.23 528.70,59.00 C529.73,60.77 530.88,62.70 531.90,65.20 C532.92,67.70 533.70,71.03 534.80,74.00 C535.90,76.97 537.05,79.85 538.50,83.00 C539.95,86.15 541.75,89.33 543.50,92.90 C545.25,96.47 547.25,100.98 549.00,104.40 C550.75,107.82 552.53,109.97 554.00,113.40 C555.47,116.83 556.38,120.40 557.80,125.00 C559.22,129.60 561.22,136.50 562.50,141.00 C563.78,145.50 564.47,148.50 565.50,152.00 C566.53,155.50 567.65,158.67 568.70,162.00 C569.75,165.33 570.42,168.92 571.80,172.00 C573.18,175.08 575.22,178.10 577.00,180.50 C578.78,182.90 580.50,184.65 582.50,186.40 C584.50,188.15 586.75,189.73 589.00,191.00 C591.25,192.27 590.50,193.08 596.00,194.00 C601.50,194.92 611.67,195.75 622.00,196.50 C632.33,197.25 652.00,198.17 658.00,198.50 L658.00,200.60 C648.33,200.20 611.67,198.72 600.00,198.20 C588.33,197.68 591.33,198.03 588.00,197.50 C584.67,196.97 582.42,196.08 580.00,195.00 C577.58,193.92 575.92,193.17 573.50,191.00 C571.08,188.83 567.83,185.17 565.50,182.00 C563.17,178.83 561.17,174.83 559.50,172.00 C557.83,169.17 556.77,167.87 555.50,165.00 C554.23,162.13 553.32,158.80 551.90,154.80 C550.48,150.80 548.65,145.47 547.00,141.00 C545.35,136.53 543.50,132.33 542.00,128.00 C540.50,123.67 539.17,118.93 538.00,115.00 C536.83,111.07 535.85,108.23 535.00,104.40 C534.15,100.57 534.02,97.07 532.90,92.00 C531.78,86.93 529.70,78.47 528.30,74.00 C526.90,69.53 525.82,68.43 524.50,65.20 C523.18,61.97 521.48,56.88 520.40,54.60 C519.32,52.32 519.07,52.43 518.00,51.50 C516.93,50.57 515.50,49.62 514.00,49.00 C512.50,48.38 511.33,48.05 509.00,47.80 C506.67,47.55 515.67,47.57 500.00,47.50 C484.33,47.43 429.17,47.42 415.00,47.40 Z" fill="#1A1AD0" fill-opacity="0.20"/>
<rect x="408.6" y="38" width="6.4" height="172" fill="#fff"/>
<line x1="392.90" y1="39.2" x2="392.90" y2="210.1" stroke="#000" stroke-width="1.07"/>
<line x1="390.00" y1="47.00" x2="392.90" y2="47.00" stroke="#333" stroke-width="1.07"/>
<text transform="translate(386.30,50.50) scale(1,1.030)" class="tk" text-anchor="end">100</text>
<line x1="390.00" y1="85.65" x2="392.90" y2="85.65" stroke="#333" stroke-width="1.07"/>
<text transform="translate(386.30,89.15) scale(1,1.030)" class="tk" text-anchor="end">75</text>
<line x1="390.00" y1="124.30" x2="392.90" y2="124.30" stroke="#333" stroke-width="1.07"/>
<text transform="translate(386.30,127.80) scale(1,1.030)" class="tk" text-anchor="end">50</text>
<line x1="390.00" y1="162.95" x2="392.90" y2="162.95" stroke="#333" stroke-width="1.07"/>
<text transform="translate(386.30,166.45) scale(1,1.030)" class="tk" text-anchor="end">25</text>
<line x1="390.00" y1="201.60" x2="392.90" y2="201.60" stroke="#333" stroke-width="1.07"/>
<text transform="translate(386.30,205.10) scale(1,1.030)" class="tk" text-anchor="end">0</text>
<line x1="392.40" y1="209.60" x2="409.20" y2="209.60" stroke="#000" stroke-width="1.07"/>
<line x1="415.10" y1="209.60" x2="670.70" y2="209.60" stroke="#000" stroke-width="1.07"/>
<line x1="407.30" y1="214.4" x2="411.30" y2="205.3" stroke="#000" stroke-width="1.5"/>
<line x1="413.30" y1="214.4" x2="417.30" y2="205.3" stroke="#000" stroke-width="1.5"/>
<line x1="393.40" y1="209.60" x2="393.40" y2="212.6" stroke="#333" stroke-width="1.07"/>
<text transform="translate(393.40,223.50) scale(1,1.030)" class="tk" text-anchor="middle">0</text>
<line x1="447.60" y1="209.60" x2="447.60" y2="212.6" stroke="#333" stroke-width="1.07"/>
<text transform="translate(447.60,223.50) scale(1,1.030)" class="tk" text-anchor="middle">50</text>
<line x1="517.70" y1="209.60" x2="517.70" y2="212.6" stroke="#333" stroke-width="1.07"/>
<text transform="translate(517.70,223.50) scale(1,1.030)" class="tk" text-anchor="middle">60</text>
<line x1="587.70" y1="209.60" x2="587.70" y2="212.6" stroke="#333" stroke-width="1.07"/>
<text transform="translate(587.70,223.50) scale(1,1.030)" class="tk" text-anchor="middle">70</text>
<line x1="657.80" y1="209.60" x2="657.80" y2="212.6" stroke="#333" stroke-width="1.07"/>
<text transform="translate(657.80,223.50) scale(1,1.030)" class="tk" text-anchor="middle">80</text>
<text transform="translate(520.00,247.70) scale(1,1.100)" class="at" text-anchor="middle">Dose [Gy]</text>
<text transform="translate(353.30,132) rotate(-90)" class="at" text-anchor="middle">Volume %</text>
<line x1="602.80" y1="47.60" x2="616.00" y2="47.60" stroke="#111" stroke-width="1.2"/>
<text transform="translate(623.50,50.60) scale(1,1.040)" class="lg">NBTV+BTV</text>
<line x1="602.80" y1="64.30" x2="615.30" y2="64.30" stroke="#111" stroke-width="1.2" stroke-dasharray="4.3,3.8"/>
<text transform="translate(623.50,67.30) scale(1,1.040)" class="lg">BTV</text>
<line x1="602.80" y1="81.00" x2="616.00" y2="81.00" stroke="#111" stroke-width="1.2" stroke-dasharray="1.2,2.85"/>
<text transform="translate(623.50,84.00) scale(1,1.040)" class="lg">NBTV</text>
<text transform="translate(0.50,266.80) scale(1,1.080)" class="bt" fill="#1C1CD2" stroke="#1C1CD2">Hypoxic Boost (n=16)</text>
<text transform="translate(0.50,279.70) scale(1,1.080)" class="bt" fill="#DC1419" stroke="#DC1419">Non-Hypoxic Boost (n=15)</text>
<text transform="translate(684.00,268.00) scale(1,1.080)" class="fn" text-anchor="end">BTV=Boosted Target Volume</text>
<text transform="translate(684.00,279.60) scale(1,1.080)" class="fn" text-anchor="end">NBTV=Non-Boosted Target Volume</text>
</svg>
</body></html>
